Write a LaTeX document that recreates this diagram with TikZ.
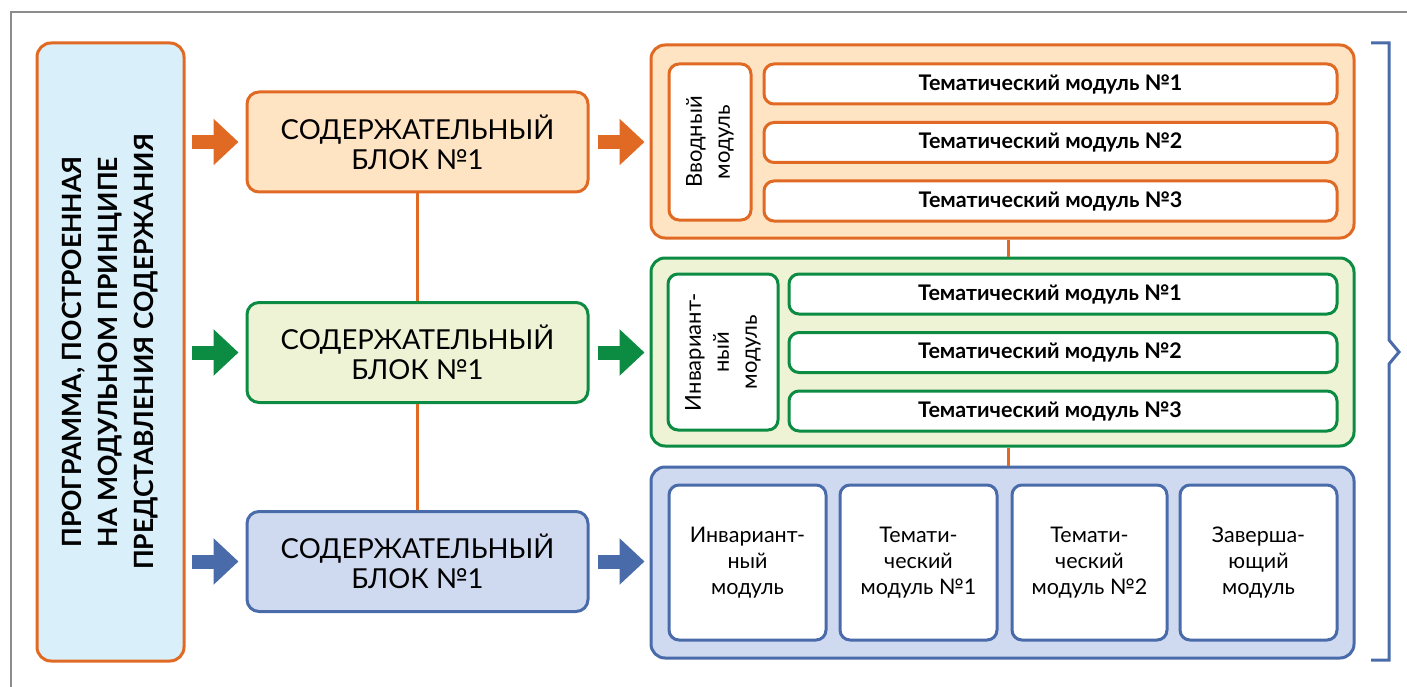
\documentclass[tikz,border=0pt]{standalone}
\usepackage{fontspec}
\setmainfont{Lato}
\usetikzlibrary{arrows.meta}

\definecolor{orline}{HTML}{E06A24}
\definecolor{orfill}{HTML}{FFE4C4}
\definecolor{grline}{HTML}{0B8C42}
\definecolor{grfill}{HTML}{EFF3D5}
\definecolor{blline}{HTML}{4A6BAA}
\definecolor{blfill}{HTML}{CFDAF0}
\definecolor{lbfill}{HTML}{D9F0FB}

\tikzset{
  mainbox/.style={draw=orline, fill=lbfill, line width=3pt, rounded corners=14pt,
    minimum width=147pt, minimum height=618pt},
  blockbox/.style={line width=3pt, rounded corners=12pt, minimum width=341pt,
    minimum height=100pt, inner sep=0pt, align=center,
    font=\fontsize{27.5}{30}\selectfont},
  groupbox/.style={line width=3pt, rounded corners=14pt, minimum width=703pt, inner sep=0pt},
  modbox/.style={fill=white, line width=3pt, rounded corners=10pt, inner sep=0pt,
    align=center},
  thmtext/.style={font=\bfseries\fontsize{21.5}{24}\selectfont},
  thmbox/.style={modbox, minimum height=40pt, thmtext},
  vertbox/.style={modbox, minimum height=156pt},
  verttext/.style={rotate=90, align=center, font=\fontsize{22}{28}\selectfont},
  lastbox/.style={modbox, minimum height=155pt, font=\fontsize{21.5}{26}\selectfont},
  bigarrow/.style={line width=14pt, -{Triangle[length=25pt,width=45pt]}},
  link/.style={orline, line width=3pt}
}

\begin{document}
\begin{tikzpicture}[x=1pt, y=-1pt]
  \useasboundingbox (0,0) rectangle (1407,687);
  % frame
  \draw[gray!90, line width=1.5pt] (11,687) -- (11,12) -- (1407,12);

  % left box
  \node[mainbox] (lbox) at (110.5,352) {};
  \node[rotate=90, align=center, font=\bfseries\fontsize{26.5}{36}\selectfont] (ltext) at (lbox) {ПРОГРАММА, ПОСТРОЕННАЯ\\НА МОДУЛЬНОМ ПРИНЦИПЕ\\ПРЕДСТАВЛЕНИЯ СОДЕРЖАНИЯ};

  % blocks
  \node[blockbox, draw=orline, fill=orfill] (blk1) at (417.5,142) {СОДЕРЖАТЕЛЬНЫЙ\\БЛОК №1};
  \node[blockbox, draw=grline, fill=grfill] (blk2) at (417.5,352.5) {СОДЕРЖАТЕЛЬНЫЙ\\БЛОК №1};
  \node[blockbox, draw=blline, fill=blfill] (blk3) at (417.5,561.5) {СОДЕРЖАТЕЛЬНЫЙ\\БЛОК №1};
  \draw[link] (blk1.south) -- (blk2.north);
  \draw[link] (blk2.south) -- (blk3.north);

  % groups
  \node[groupbox, draw=orline, fill=orfill, minimum height=193pt] (grp1) at (1002.5,141.5) {};
  \node[groupbox, draw=grline, fill=grfill, minimum height=188pt] (grp2) at (1002.5,352) {};
  \node[groupbox, draw=blline, fill=blfill, minimum height=191pt] (grp3) at (1002.5,562.5) {};
  \draw[link] ([xshift=5.5pt]grp1.south) -- ([xshift=5.5pt]grp2.north);
  \draw[link] ([xshift=5.5pt]grp2.south) -- ([xshift=5.5pt]grp3.north);

  % arrows
  \draw[bigarrow, orline, shorten <=6pt, shorten >=7pt] (lbox.east |- blk1) -- (blk1.west);
  \draw[bigarrow, grline, shorten <=6pt, shorten >=7pt] (lbox.east |- blk2) -- (blk2.west);
  \draw[bigarrow, blline, shorten <=6pt, shorten >=7pt] (lbox.east |- blk3) -- (blk3.west);
  \draw[bigarrow, orline, shorten <=8pt, shorten >=5pt] (blk1.east) -- (grp1.west |- blk1);
  \draw[bigarrow, grline, shorten <=8pt, shorten >=5pt] (blk2.east) -- (grp2.west |- blk2);
  \draw[bigarrow, blline, shorten <=8pt, shorten >=5pt] (blk3.east) -- (grp3.west |- blk3);

  % first group
  \node[vertbox, draw=orline, minimum width=82pt] (intro) at (710,142) {};
  \node[verttext] (introtxt) at (intro) {Вводный\\модуль};
  \node[thmbox, draw=orline, minimum width=573pt] (ot1) at (1050.5,84) {Тематический модуль №1};
  \node[thmbox, draw=orline, minimum width=573pt] (ot2) at (1050.5,142.5) {Тематический модуль №2};
  \node[thmbox, draw=orline, minimum width=573pt] (ot3) at (1050.5,201) {Тематический модуль №3};

  % second group
  \node[vertbox, draw=grline, minimum width=110pt] (invar) at (723,352) {};
  \node[verttext] (invartxt) at (invar) {Инвариант-\\ный\\модуль};
  \node[thmbox, draw=grline, minimum width=548pt,
    label={[thmtext, xshift=-13pt]center:Тематический модуль №1}] (gt1) at (1063,294) {};
  \node[thmbox, draw=grline, minimum width=548pt,
    label={[thmtext, xshift=-13pt]center:Тематический модуль №2}] (gt2) at (1063,352.5) {};
  \node[thmbox, draw=grline, minimum width=548pt,
    label={[thmtext, xshift=-13pt]center:Тематический модуль №3}] (gt3) at (1063,411) {};

  % third group
  \node[lastbox, draw=blline, minimum width=157pt] (bm1) at (747.5,562.5) {Инвариант-\\ный\\модуль};
  \node[lastbox, draw=blline, minimum width=157pt] (bm2) at (918.5,562.5) {Темати-\\ческий\\модуль №1};
  \node[lastbox, draw=blline, minimum width=155pt] (bm3) at (1089.5,562.5) {Темати-\\ческий\\модуль №2};
  \node[lastbox, draw=blline, minimum width=157pt] (bm4) at (1258.5,562.5) {Заверша-\\ющий\\модуль};

  % brace
  \draw[blline, line width=3pt] (1371,43) -- (1389,43) -- (1389,340) -- (1399,352)
    -- (1389,364) -- (1389,660) -- (1371,660);
\end{tikzpicture}
\end{document}
